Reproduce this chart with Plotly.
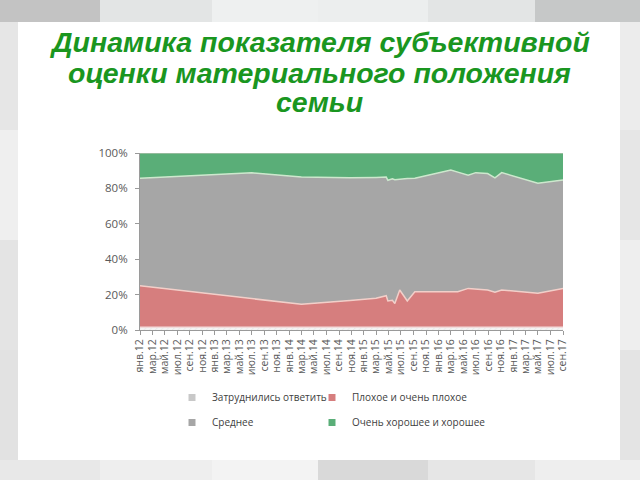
import plotly.graph_objects as go
import pandas as pd

# ---- data ----
dates = ["2012-01-01", "2013-07-01", "2014-03-01", "2014-10-25", "2015-03-01",
         "2015-04-20", "2015-04-28", "2015-05-20", "2015-06-01", "2015-06-25",
         "2015-08-01", "2015-09-07", "2016-03-01", "2016-04-04", "2016-05-25",
         "2016-07-01", "2016-08-28", "2016-10-03", "2016-11-05", "2017-05-01",
         "2017-09-01"]
hard_to_say = [1.5] * 21
bad = [23.5, 16.0, 13.0, 15.1, 16.4, 17.9, 14.9, 15.3, 13.5, 21.1, 14.9,
       20.1, 20.1, 20.1, 22.0, 21.5, 21.1, 19.8, 21.1, 19.2, 22.0]
average = [60.7, 71.3, 72.0, 69.4, 68.3, 67.0, 68.2, 68.6, 69.9, 62.7, 69.2,
           64.2, 68.8, 67.6, 63.9, 65.9, 65.8, 64.7, 66.3, 62.2, 61.2]
good = [14.3, 11.2, 13.5, 14.0, 13.8, 13.6, 15.4, 14.6, 15.1, 14.7, 14.4,
        14.2, 9.6, 10.8, 12.6, 11.1, 11.6, 14.0, 11.1, 17.1, 15.3]

tick_labels = ["янв.12", "мар.12", "май.12", "июл.12", "сен.12", "ноя.12",
               "янв.13", "мар.13", "май.13", "июл.13", "сен.13", "ноя.13",
               "янв.14", "мар.14", "май.14", "июл.14", "сен.14", "ноя.14",
               "янв.15", "мар.15", "май.15", "июл.15", "сен.15", "ноя.15",
               "янв.16", "мар.16", "май.16", "июл.16", "сен.16", "ноя.16",
               "янв.17", "мар.17", "май.17", "июл.17", "сен.17"]
tick_dates = [d.strftime("%Y-%m-%d") for d in pd.date_range("2012-01-01", "2017-09-01", freq="2MS")]

series_names = ["Затруднились ответить", "Плохое и очень плохое", "Среднее", "Очень хорошее и хорошее"]
fill_colors = ["#e4e4e4", "#d67e7e", "#a6a6a6", "#5aae78"]
line_colors = ["#f3dcdc", "#f2cfc9", "#cde8cd", "#a9bfa9"]
legend_colors = ["#c8c8c8", "#d67e7e", "#a6a6a6", "#5aae78"]

W, H = 640, 480
ML, MR, MT, MB = 140, 77, 153, 150
PW, PH = W - ML - MR, H - MT - MB


def px(x):
    return (x - ML) / PW


def py(y):
    return (H - MB - y) / PH


fig = go.Figure()
for i, vals in enumerate([hard_to_say, bad, average, good]):
    kw = {}
    if i == 0:
        kw["fillpattern"] = dict(shape="/", fgcolor="#cfcfcf", bgcolor="#f4f4f4", size=4)
    fig.add_trace(go.Scatter(
        x=dates, y=vals, mode="lines", stackgroup="one",
        fillcolor=fill_colors[i], line=dict(color=line_colors[i], width=1.5),
        name=series_names[i], showlegend=False, hoverinfo="skip", **kw))

# legend entries (small squares), one legend per entry for a 2x2 grid
legend_ids = ["legend", "legend2", "legend3", "legend4"]
for i in range(4):
    fig.add_trace(go.Scatter(
        x=[None], y=[None], mode="markers",
        marker=dict(symbol="square", size=7, color=legend_colors[i]),
        name=series_names[i], legend=legend_ids[i], showlegend=True))

# background tiles
shapes = []
cols = [0, 100, 212, 318, 428, 535, 640]
top_colors = ["#c3c3c3", "#e3e5e5", "#eef0f0", "#eceeee", "#e3e5e5", "#c6c8c8"]
bot_colors = ["#e8e8e8", "#eeeeee", "#f3f3f3", "#d9d9d9", "#e6e6e6", "#eeeeee"]
for j in range(6):
    shapes.append(dict(type="rect", xref="paper", yref="paper", x0=px(cols[j]), x1=px(cols[j + 1]),
                       y0=py(22), y1=py(0), fillcolor=top_colors[j], line_width=0, layer="below"))
    shapes.append(dict(type="rect", xref="paper", yref="paper", x0=px(cols[j]), x1=px(cols[j + 1]),
                       y0=py(480), y1=py(460), fillcolor=bot_colors[j], line_width=0, layer="below"))
rows = [22, 130, 240, 350, 460]
left_colors = ["#e6e6e6", "#efefef", "#e4e4e4", "#e2e2e2"]
right_colors = ["#ececec", "#e6e6e6", "#eeeeee", "#e4e4e4"]
for j in range(4):
    shapes.append(dict(type="rect", xref="paper", yref="paper", x0=px(0), x1=px(18),
                       y0=py(rows[j + 1]), y1=py(rows[j]), fillcolor=left_colors[j], line_width=0, layer="below"))
    shapes.append(dict(type="rect", xref="paper", yref="paper", x0=px(620), x1=px(640),
                       y0=py(rows[j + 1]), y1=py(rows[j]), fillcolor=right_colors[j], line_width=0, layer="below"))

title_lines = ["Динамика показателя субъективной", "оценки материального положения", "семьи"]
title_y = [42, 73, 102]
annotations = []
for t, yy in zip(title_lines, title_y):
    annotations.append(dict(text=t, xref="paper", yref="paper", x=px(319), y=py(yy),
                            xanchor="center", yanchor="middle", showarrow=False,
                            font=dict(family="Liberation Sans", size=28.5, color="#1a961f",
                                      weight="bold", style="italic")))

legend_font = dict(family="Open Sans", size=10, color="#404040")
legend_pos = [(172, 383), (312, 383), (172, 408), (312, 408)]
legends = {}
for lid, (lx, ly) in zip(legend_ids, legend_pos):
    legends[lid] = dict(orientation="h", x=px(lx), y=py(ly), xanchor="left", yanchor="top",
                        font=legend_font, bgcolor="rgba(0,0,0,0)", itemwidth=30)

fig.update_layout(
    width=W, height=H,
    margin=dict(l=ML, r=MR, t=MT, b=MB, pad=0),
    paper_bgcolor="white", plot_bgcolor="white",
    shapes=shapes, annotations=annotations,
    xaxis=dict(type="date", range=["2012-01-01", "2017-09-01"], tickvals=tick_dates,
               ticktext=tick_labels, tickangle=-90, showgrid=False, showline=True,
               linecolor="#9a9a9a", ticks="outside", ticklen=4, tickcolor="#9a9a9a",
               tickfont=dict(family="Open Sans", size=10.5, color="#595959"), zeroline=False),
    yaxis=dict(range=[0, 100], tickvals=[0, 20, 40, 60, 80, 100],
               ticktext=["0%", "20%", "40%", "60%", "80%", "100%"], showgrid=False,
               showline=True, linecolor="#9a9a9a", ticks="outside", ticklen=4,
               tickcolor="#9a9a9a", tickfont=dict(family="Open Sans", size=11.5, color="#595959"),
               ticklabelstandoff=5, zeroline=False),
    **legends,
)

fig.write_html("out.html")
